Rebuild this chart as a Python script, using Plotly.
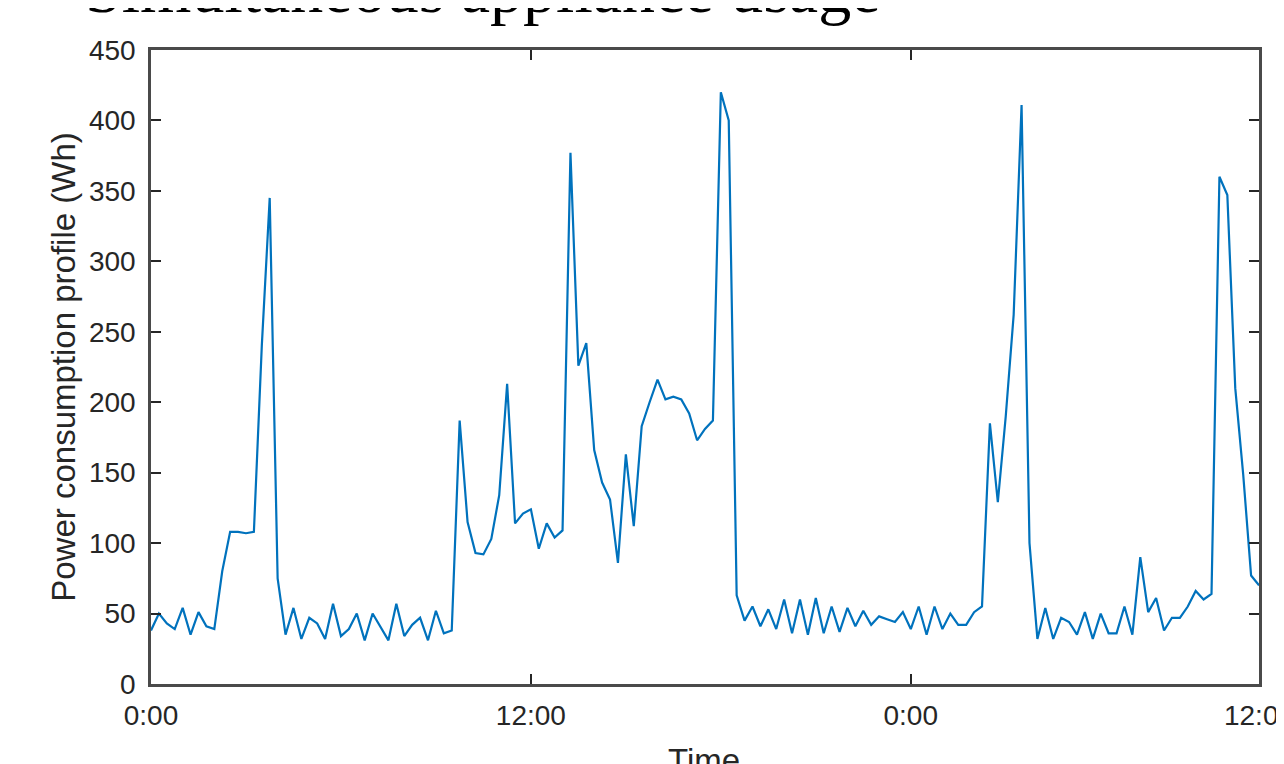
import plotly.graph_objects as go

# Power consumption profile sampled every 15 minutes (Wh)
power_wh = [
    38, 50, 43, 39, 54, 35, 51, 41, 39, 80,
    108, 108, 107, 108, 240, 345, 75, 35, 54, 32,
    47, 43, 32, 57, 34, 39, 50, 31, 50, 41,
    31, 57, 34, 42, 47, 31, 52, 36, 38, 187,
    115, 93, 92, 103, 134, 213, 114, 121, 124, 96,
    114, 104, 109, 377, 226, 242, 166, 143, 131, 86,
    163, 112, 183, 200, 216, 202, 204, 202, 192, 173,
    181, 187, 420, 400, 63, 45, 55, 41, 53, 39,
    60, 36, 60, 35, 61, 36, 55, 37, 54, 41,
    52, 42, 48, 46, 44, 51, 39, 55, 35, 55,
    39, 50, 42, 42, 51, 55, 185, 129, 190, 262,
    411, 100, 32, 54, 32, 47, 44, 35, 51, 32,
    50, 36, 36, 55, 35, 90, 51, 61, 38, 47,
    47, 55, 66, 60, 64, 360, 347, 210, 149, 77,
    70,
]
step_hours = 0.25
time_hours = [i * step_hours for i in range(len(power_wh))]

x_tick_vals = [0, 12, 24, 35]
x_tick_text = ["0:00", "12:00", "0:00", "12:00"]
y_tick_vals = [0, 50, 100, 150, 200, 250, 300, 350, 400, 450]

title_text = "Simultaneous appliance usage"
x_label = "Time"
y_label = "Power consumption profile (Wh)"

axis_color = "#4a4a4a"
text_color = "#262626"
sans = "Liberation Sans, Arial, sans-serif"

fig = go.Figure()
fig.add_trace(go.Scatter(
    x=time_hours, y=power_wh, mode="lines",
    line=dict(color="#0072BD", width=2.2),
    hoverinfo="skip",
))

common_axis = dict(
    showline=True, linecolor=axis_color, linewidth=2.5, mirror="ticks",
    ticks="inside", ticklen=10, tickwidth=2, tickcolor=text_color,
    showgrid=False, zeroline=False,
    tickfont=dict(family=sans, size=28, color=text_color),
    ticklabeloverflow="allow",
)

fig.update_xaxes(
    range=[0, 35], tickvals=x_tick_vals, ticktext=x_tick_text,
    ticklabelstandoff=5,
    **common_axis,
)
fig.update_yaxes(
    range=[0, 450], tickvals=y_tick_vals,
    ticklabelstandoff=7,
    title=dict(text=y_label, font=dict(family=sans, size=33, color=text_color), standoff=4),
    **common_axis,
)

# x-axis label placed below the tick labels (partly beyond the bottom edge, as in the original)
fig.add_annotation(
    text=x_label, xref="paper", yref="paper",
    x=0.499, y=-0.0883, xanchor="center", yanchor="top",
    showarrow=False,
    font=dict(family=sans, size=33, color=text_color),
)

fig.add_annotation(
    text=title_text, xref="paper", yref="paper",
    x=-0.0614, y=1.0962, xanchor="left", yanchor="middle",
    showarrow=False,
    font=dict(family="Liberation Serif, Times New Roman, serif", size=66, color="#000000"),
)

fig.update_layout(
    width=1276, height=756,
    margin=dict(l=143, r=25, t=42, b=80, autoexpand=False),
    plot_bgcolor="white", paper_bgcolor="white",
    showlegend=False,
)

fig.write_html("out.html")
